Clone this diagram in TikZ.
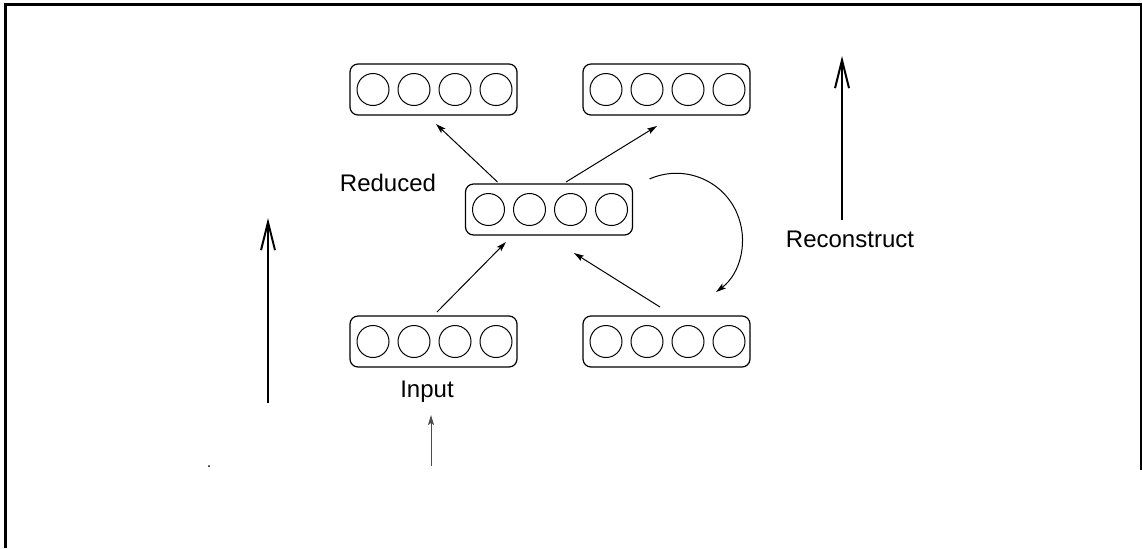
\documentclass[tikz,border=0pt]{standalone}
\usepackage{fontspec}
\setmainfont{Liberation Sans}
\usetikzlibrary{arrows.meta,calc}

\tikzset{
  layerbox/.style={draw, rounded corners=4pt, minimum width=83.5pt, minimum height=25.5pt,
                   inner sep=0pt, outer sep=0pt, line width=0.6pt},
  unit/.style={line width=0.5pt},
  thinarrow/.style={line width=0.5pt, -{Stealth[length=5pt,width=3pt,inset=1pt]}},
  bigarrow/.style={line width=1pt, -{Straight Barb[length=14pt,width=7pt]}},
  label/.style={inner sep=0pt, font=\fontsize{12pt}{14pt}\selectfont}
}

\begin{document}
\begin{tikzpicture}[x=0.5pt, y=-0.5pt]
  \useasboundingbox (0,0) rectangle (1142,548);

  % frame
  \draw[line width=1.5pt] (5.5,548) -- (5.5,4.5) -- (1142,4.5);
  \draw[line width=1pt] (1140.5,4.5) -- (1140.5,470);

  % layers
  \foreach \name/\cx/\cy in {tl/433.5/89.5, tr/666.5/89.5, mid/549/209.5, bl/433.5/341.5, br/666.5/341.5} {
    \node[layerbox] (\name) at (\cx,\cy) {};
    \foreach \i in {0,...,3}
      \draw[unit] ($(\name.west)+(23+41*\i,0)$) circle (8pt);
  }

  % labels
  \node[label] (reduced) at (388,183) {Reduced};
  \node[label] (input) at (427,392) {Input};
  \node[label] (recon) at (850,239) {Reconstruct};

  % connections
  \draw[thinarrow] ([xshift=16pt,yshift=1pt]mid.north west) -- ([xshift=1.25pt,yshift=-4.5pt]tl.south);
  \draw[thinarrow] ([xshift=8.5pt,yshift=1pt]mid.north) -- ([xshift=-4.75pt,yshift=-5.5pt]tr.south);
  \draw[thinarrow] ([xshift=1.75pt,yshift=2pt]bl.north) -- ([xshift=-21.5pt,yshift=-3.5pt]mid.south);
  \draw[thinarrow] ([xshift=-3.25pt,yshift=4.5pt]br.north) -- ([xshift=12.5pt,yshift=-9pt]mid.south);
  \draw[thinarrow] ([xshift=8.5pt,yshift=2.5pt]mid.north east) arc[start angle=114, end angle=-53, radius=33pt];

  % input feed
  \coordinate (feed) at (431,466);
  \coordinate (feedtip) at (431,415);
  \draw[thinarrow, black!70] (feed) -- (feedtip);
  \fill (209,466) circle (0.5pt);

  % direction arrows
  \coordinate (upstart) at (268,403);
  \coordinate (uptip) at (268,218);
  \draw[bigarrow] (upstart) -- (uptip);
  \coordinate (recstart) at (842,220);
  \coordinate (rectip) at (842,56);
  \draw[bigarrow] (recstart) -- (rectip);
\end{tikzpicture}
\end{document}
